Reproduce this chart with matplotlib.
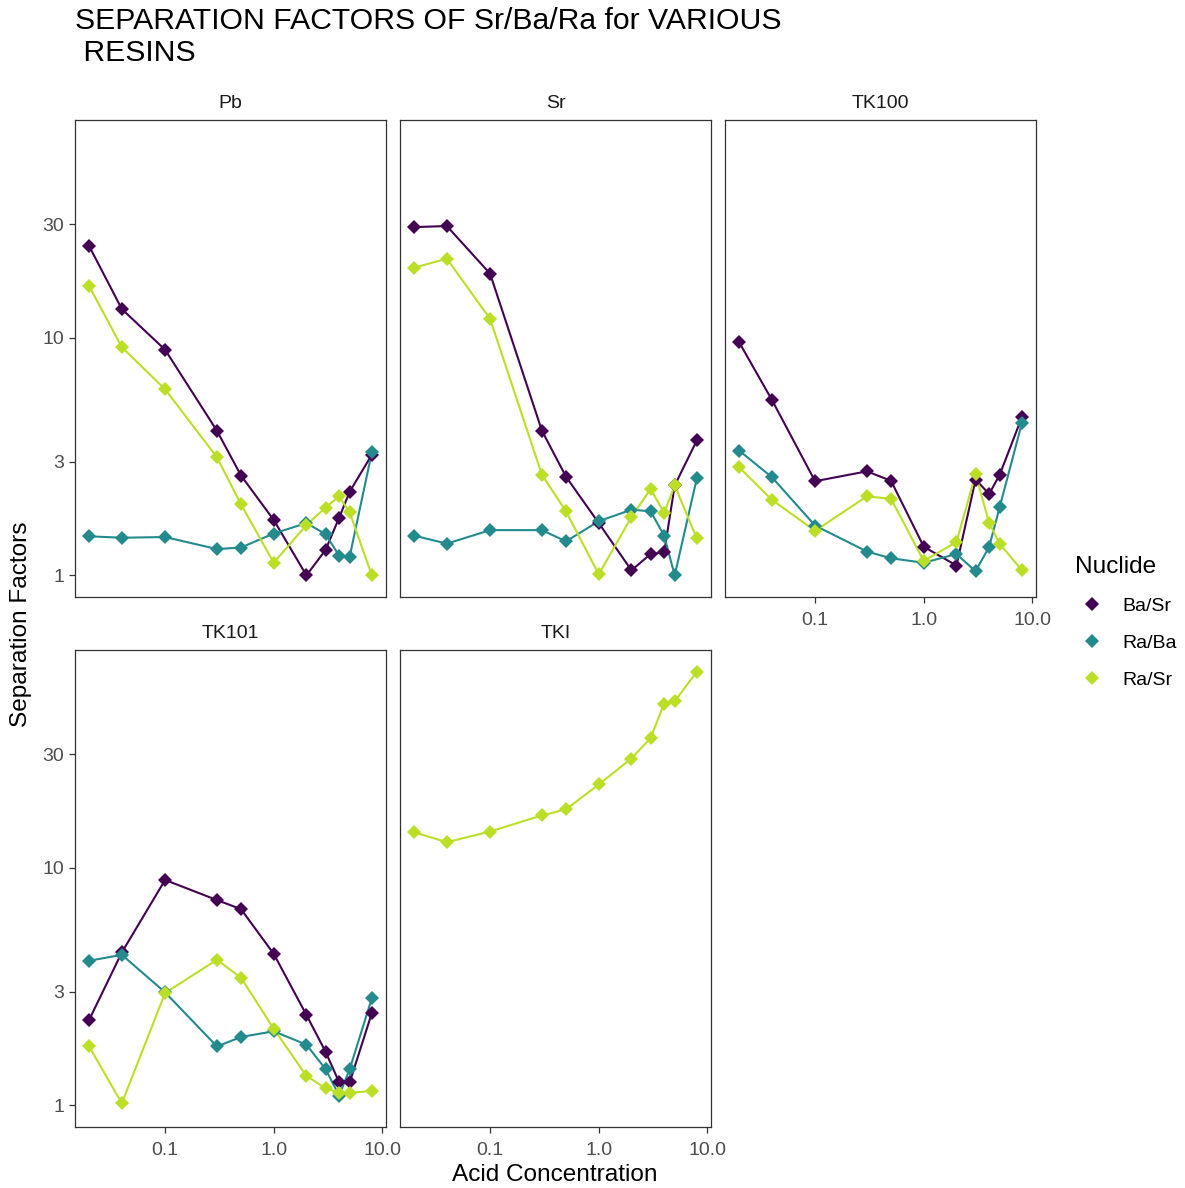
import matplotlib
matplotlib.use("Agg")
import matplotlib.pyplot as plt
from matplotlib.lines import Line2D

plt.rcParams['font.family'] = ['Liberation Sans', 'DejaVu Sans']

# Acid concentrations (shared x values)
acid = [0.02, 0.04, 0.1, 0.3, 0.5, 1.0, 2.0, 3.0, 4.0, 5.0, 8.0]

nuclides = ["Ba/Sr", "Ra/Ba", "Ra/Sr"]
colors = ["#440154", "#238A8D", "#BBDF27"]
resins = ["Pb", "Sr", "TK100", "TK101", "TKI"]

# Separation factors per resin
pb_ba_sr = [24.3, 13.2, 8.9, 4.06, 2.63, 1.71, 1.00, 1.28, 1.75, 2.25, 3.22]
pb_ra_ba = [1.46, 1.44, 1.45, 1.29, 1.31, 1.50, 1.66, 1.49, 1.21, 1.20, 3.30]
pb_ra_sr = [16.5, 9.12, 6.07, 3.14, 1.99, 1.13, 1.63, 1.93, 2.15, 1.84, 1.00]

sr_ba_sr = [29.2, 29.5, 18.6, 4.06, 2.60, 1.66, 1.05, 1.23, 1.25, 2.39, 3.70]
sr_ra_ba = [1.47, 1.36, 1.55, 1.55, 1.39, 1.69, 1.89, 1.86, 1.47, 1.00, 2.57]
sr_ra_sr = [19.7, 21.5, 12.0, 2.65, 1.86, 1.01, 1.76, 2.31, 1.83, 2.39, 1.43]

tk100_ba_sr = [9.57, 5.48, 2.49, 2.74, 2.50, 1.32, 1.10, 2.53, 2.20, 2.65, 4.63]
tk100_ra_ba = [3.35, 2.59, 1.62, 1.26, 1.18, 1.13, 1.23, 1.04, 1.32, 1.94, 4.37]
tk100_ra_sr = [2.85, 2.08, 1.54, 2.15, 2.10, 1.15, 1.38, 2.67, 1.66, 1.36, 1.05]

tk101_ba_sr = [2.29, 4.40, 8.88, 7.31, 6.69, 4.34, 2.40, 1.68, 1.25, 1.25, 2.45]
tk101_ra_ba = [4.06, 4.30, 2.99, 1.77, 1.94, 2.05, 1.80, 1.42, 1.10, 1.42, 2.83]
tk101_ra_sr = [1.77, 1.02, 2.97, 4.10, 3.44, 2.10, 1.33, 1.18, 1.13, 1.13, 1.15]

tki_ra_sr = [14.1, 12.8, 14.2, 16.6, 17.6, 22.4, 28.8, 35.1, 49.0, 50.1, 66.9]

data = {
    "Pb": {"Ba/Sr": pb_ba_sr, "Ra/Ba": pb_ra_ba, "Ra/Sr": pb_ra_sr},
    "Sr": {"Ba/Sr": sr_ba_sr, "Ra/Ba": sr_ra_ba, "Ra/Sr": sr_ra_sr},
    "TK100": {"Ba/Sr": tk100_ba_sr, "Ra/Ba": tk100_ra_ba, "Ra/Sr": tk100_ra_sr},
    "TK101": {"Ba/Sr": tk101_ba_sr, "Ra/Ba": tk101_ra_ba, "Ra/Sr": tk101_ra_sr},
    "TKI": {"Ra/Sr": tki_ra_sr},
}

x_ticks = [0.1, 1.0, 10.0]
x_tick_labels = ["0.1", "1.0", "10.0"]
y_ticks = [1, 3, 10, 30]
y_tick_labels = ["1", "3", "10", "30"]

W, H = 1185, 1188
fig = plt.figure(figsize=(W / 100, H / 100), dpi=100)

panel_w, panel_h = 311, 477
lefts = [75, 400, 725]
tops = [120, 650]
slots = [(0, 0), (0, 1), (0, 2), (1, 0), (1, 1)]

x_lim = (10 ** -1.829, 10 ** 1.033)
y_lim = (10 ** -0.091, 10 ** 1.916)

border = "#333333"
tick_col = "#4D4D4D"

for resin, (r, c) in zip(resins, slots):
    ax = fig.add_axes([lefts[c] / W, 1 - (tops[r] + panel_h) / H, panel_w / W, panel_h / H])
    ax.set_xscale("log")
    ax.set_yscale("log")
    series = data[resin]
    for nuc, col in zip(nuclides, colors):
        if nuc in series:
            ax.plot(acid, series[nuc], color=col, lw=1.5, zorder=2)
    for nuc, col in zip(nuclides, colors):
        if nuc in series:
            ax.plot(acid, series[nuc], ls="none", marker="D", ms=7.2,
                    mew=0, color=col, zorder=3)
    ax.set_xlim(*x_lim)
    ax.set_ylim(*y_lim)
    ax.minorticks_off()
    ax.set_xticks(x_ticks)
    ax.set_xticklabels(x_tick_labels)
    ax.set_yticks(y_ticks)
    ax.set_yticklabels(y_tick_labels)
    for s in ax.spines.values():
        s.set_color(border)
        s.set_linewidth(0.9)
    show_x = (r == 1) or (c == 2)
    show_y = (c == 0)
    ax.tick_params(axis="x", which="both", length=4.3 if show_x else 0, width=0.9,
                   color=border, labelcolor=tick_col, labelsize=14, pad=6.5,
                   labelbottom=show_x)
    ax.tick_params(axis="y", which="both", length=4.3 if show_y else 0, width=0.9,
                   color=border, labelcolor=tick_col, labelsize=14, pad=3.5,
                   labelleft=show_y)
    ax.set_title(resin, fontsize=14, color="#1A1A1A", pad=8.5)

fig.text(75 / W, 1 - 7 / H, "SEPARATION FACTORS OF Sr/Ba/Ra for VARIOUS\n RESINS",
         fontsize=21.7, ha="left", va="top", linespacing=1.2, color="black")
fig.text(555 / W, 1 - 1175 / H, "Acid Concentration", fontsize=17.6,
         ha="center", va="center")
fig.text(21 / W, 1 - 624 / H, "Separation Factors", fontsize=17.6,
         ha="center", va="center", rotation=90)

handles = [Line2D([], [], ls="none", marker="D", ms=7.2, mew=0, color=col)
           for col in colors]
leg = fig.legend(handles, nuclides, title="Nuclide", loc="upper left",
                 bbox_to_anchor=(1067 / W, 1 - 548 / H), frameon=False,
                 fontsize=14, title_fontsize=17.6, handlelength=1.75,
                 handletextpad=0.68, labelspacing=1.0, borderaxespad=0)
leg._legend_box.align = "left"
leg._legend_box.sep = 14

fig.savefig("out.png", dpi=100)
